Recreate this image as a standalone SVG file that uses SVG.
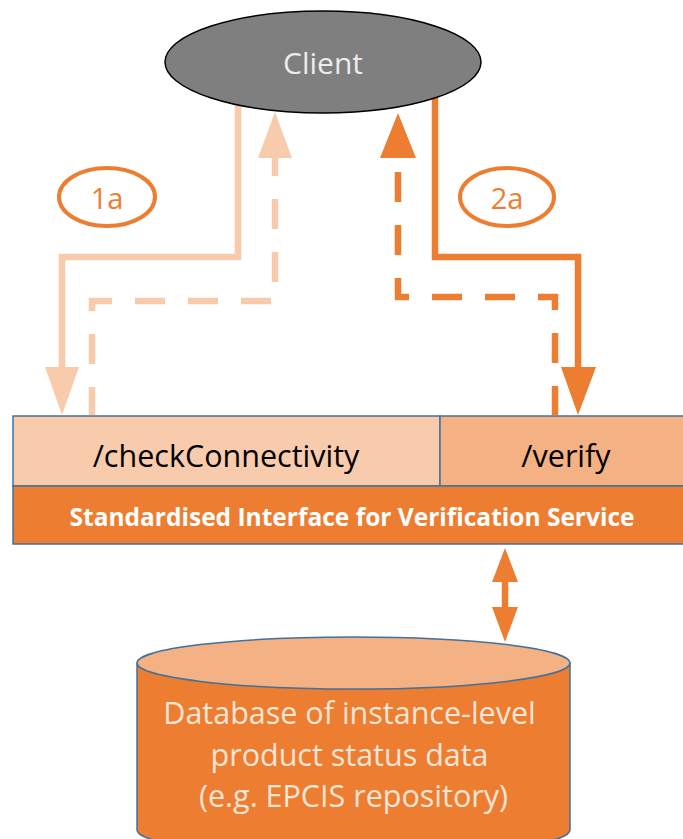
<svg xmlns="http://www.w3.org/2000/svg" width="683" height="839" viewBox="0 0 683 839">
<style>
.lt{stroke:#f8cbad;stroke-width:6.5;fill:none}
.dk{stroke:#ed7d31;stroke-width:6.5;fill:none}
.dash{stroke-dasharray:30,23}
.lbl{fill:#fff;stroke:#ed7d31;stroke-width:4}
.lbltxt{font-family:"Open Sans",sans-serif;font-size:29px;fill:#ed7d31;text-anchor:middle}
.cell{stroke:#41719c;stroke-width:1.5}
.t{font-family:"Open Sans",sans-serif;text-anchor:middle}
</style>
<g id="connectors">
  <polyline class="lt" points="238,100 238,257 62,257 62,370"/>
  <polygon fill="#f8cbad" points="45,367 79,367 62,415"/>
  <polyline class="lt dash" stroke-dashoffset="2" points="92,415 92,301 275,301 275,157"/>
  <polygon fill="#f8cbad" points="258,158 292,158 275,112"/>
  <polyline class="dk" points="435,97 435,257 578,257 578,370"/>
  <polygon fill="#ed7d31" points="561,367 596,367 578,415"/>
  <polyline class="dk dash" stroke-dashoffset="1" points="555,415 555,297 398,297 398,157"/>
  <polygon fill="#ed7d31" points="380,158 416,158 398,113"/>
  <line class="dk" x1="505" y1="575" x2="505" y2="612"/>
  <polygon fill="#ed7d31" points="505,548 492,582 518,582"/>
  <polygon fill="#ed7d31" points="505,642 492,607 518,607"/>
</g>
<g id="client">
  <ellipse cx="323" cy="62" rx="158" ry="51" fill="#7f7f7f" stroke="#000" stroke-width="1.5"/>
  <text x="323" y="74" class="t" font-size="30" fill="#ececec">Client</text>
</g>
<g id="label-1a">
  <ellipse class="lbl" cx="107" cy="197" rx="48" ry="29"/>
  <text x="107" y="209" class="lbltxt">1a</text>
</g>
<g id="label-2a">
  <ellipse class="lbl" cx="507" cy="197" rx="47" ry="29"/>
  <text x="507" y="209" class="lbltxt">2a</text>
</g>
<g id="checkConnectivity">
  <rect class="cell" x="13" y="416" width="427" height="70" fill="#f8cbad"/>
  <text x="226" y="467" class="t" font-size="30.5" fill="#000">/checkConnectivity</text>
</g>
<g id="verify">
  <rect class="cell" x="440" y="416" width="252" height="70" fill="#f4b183"/>
  <text x="566" y="467" class="t" font-size="30.5" fill="#000">/verify</text>
</g>
<g id="interface">
  <rect class="cell" x="13" y="486" width="679" height="58" fill="#ed7d31"/>
  <text x="352" y="526" class="t" font-size="24.5" font-weight="bold" fill="#fff">Standardised Interface for Verification Service</text>
</g>
<g id="database">
  <path d="M137,663 L137,830 A216,26 0 0 0 570,830 L570,663" fill="#ed7d31" stroke="#41719c" stroke-width="1.5"/>
  <ellipse cx="353.5" cy="663" rx="216.5" ry="26" fill="#f4b183" stroke="#41719c" stroke-width="1.5"/>
  <text class="t" font-size="30.5" fill="#fbe5d6">
    <tspan x="353.5" y="724">Database of instance-level</tspan>
    <tspan x="353.5" y="766">product status data</tspan>
    <tspan x="353.5" y="807">(e.g. EPCIS repository)</tspan>
  </text>
</g>
</svg>
